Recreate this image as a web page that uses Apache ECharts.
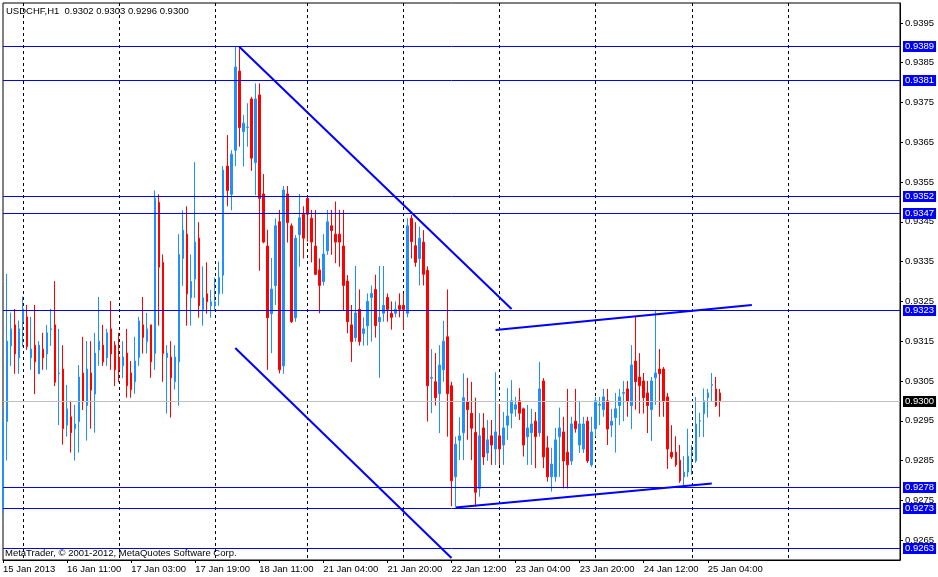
<!DOCTYPE html>
<html><head><meta charset="utf-8">
<script src="https://cdn.jsdelivr.net/npm/echarts@6/dist/echarts.min.js"></script>
<style>html,body{margin:0;padding:0;background:#fff}#c{width:938px;height:577px}</style>
</head><body><div id="c"></div><script>
const FONT = '"Liberation Sans", Arial, sans-serif';
const SYMBOL = 'USDCHF,H1';
const headerOHLC = ['0.9302', '0.9303', '0.9296', '0.9300'];
const footerText = 'MetaTrader, \u00A9 2001-2012, MetaQuotes Software Corp.';

// hourly bar slots (180 bars of data + empty future slots)
const slotCount = 225;
const xTickIdx = [0, 16, 32, 48, 64, 80, 96, 112, 128, 144, 160, 176];
const xTickLabels = ['15 Jan 2013', '16 Jan 11:00', '17 Jan 03:00', '17 Jan 19:00', '18 Jan 11:00', '21 Jan 04:00',
  '21 Jan 20:00', '22 Jan 12:00', '23 Jan 04:00', '23 Jan 20:00', '24 Jan 12:00', '25 Jan 04:00'];
const daySeparators = [5, 29, 53, 76, 100, 124, 148, 172, 196];
const yTickValues = [0.9265, 0.9275, 0.9285, 0.9295, 0.9305, 0.9315, 0.9325, 0.9335, 0.9345, 0.9355, 0.9365, 0.9375, 0.9385, 0.9395];

const opens = [
.92738,.92948,.93138,.93191,.93108,.93199,.93211,.93108,.93140,.93068,
.93130,.93118,.93179,.93191,.93068,.93080,.92939,.92960,.92930,.92948,
.93070,.92988,.93070,.93017,.93128,.93140,.93108,.93181,.93140,.93110,
.93088,.93120,.93070,.93048,.93109,.93191,.93149,.93191,.93119,.93499,
.93348,.93109,.93110,.93048,.93098,.93358,.93419,.93259,.93306,.93409,
.93229,.93269,.93239,.93239,.93269,.93316,.93590,.93519,.93630,.93829,
.93677,.93687,.93759,.93599,.93769,.93520,.93389,.93219,.93290,.93450,
.93088,.93520,.93440,.93209,.93418,.93469,.93509,.93459,.93389,.93329,
.93300,.93377,.93440,.93419,.93419,.93389,.93301,.93191,.93159,.93230,
.93169,.93189,.93260,.93280,.93199,.93220,.93260,.93220,.93220,.93240,
.93240,.93220,.93459,.93390,.93358,.93399,.93328,.93057,.93048,.93018,
.93078,.93161,.93038,.92809,.92901,.92920,.92998,.92969,.92921,.92780,
.92932,.92869,.92912,.92879,.92912,.92889,.92939,.92969,.92979,.93000,
.92980,.92910,.92920,.92949,.92920,.93050,.92882,.92809,.92809,.92910,
.92922,.92871,.92849,.92949,.92889,.92879,.92949,.92839,.92930,.92989,
.92978,.93000,.92939,.92958,.92988,.93019,.93030,.92988,.93100,.93060,
.93050,.93020,.92978,.93058,.93080,.93080,.93010,.92871,.92871,.92851,
.92809,.92821,.92871,.92849,.92949,.92968,.93008,.93039,.93030,.93020];

const closes = [
.92944,.93150,.93181,.93118,.93181,.93231,.93136,.93130,.93098,.93140,
.93108,.93171,.93181,.93047,.93070,.92930,.92980,.92920,.92942,.93060,
.92998,.93080,.93027,.93120,.93150,.93098,.93171,.93118,.93078,.93078,
.93110,.93038,.93028,.93100,.93201,.93159,.93181,.93098,.93509,.93336,
.93119,.93120,.93058,.93110,.93368,.93429,.93269,.93300,.93399,.93239,
.93259,.93249,.93249,.93249,.93310,.93580,.93529,.93620,.93839,.93687,
.93698,.93688,.93610,.93759,.93509,.93399,.93209,.93281,.93440,.93078,
.93530,.93448,.93199,.93409,.93460,.93409,.93469,.93399,.93318,.93290,
.93369,.93450,.93428,.93399,.93399,.93290,.93199,.93149,.93221,.93149,
.93181,.93250,.93270,.93189,.93210,.93240,.93230,.93210,.93230,.93230,
.93230,.93440,.93400,.93348,.93409,.93318,.93038,.93059,.93008,.93090,
.93150,.93018,.92799,.92891,.92912,.93008,.92978,.92931,.92770,.92912,
.92859,.92902,.92889,.92922,.92879,.92932,.92962,.93000,.92990,.92969,
.92889,.92932,.92942,.92910,.93030,.92859,.92809,.92841,.92902,.92932,
.92849,.92839,.92942,.92930,.92942,.92942,.92849,.92922,.93000,.92991,
.93010,.92929,.92949,.92980,.93010,.93021,.92998,.93090,.93048,.93038,
.93008,.92988,.93050,.93070,.93068,.92998,.92879,.92859,.92839,.92799,
.92821,.92861,.92872,.92942,.92950,.93000,.93020,.93041,.92988,.93000];

const lows = [
.92718,.92850,.93088,.93068,.93068,.93136,.93128,.93078,.93017,.93068,
.93078,.93078,.93138,.93037,.92939,.92890,.92910,.92870,.92850,.92870,
.92977,.92900,.92930,.92920,.93088,.93088,.93088,.93078,.93037,.93047,
.93057,.93008,.93008,.93018,.93088,.93119,.93119,.93058,.93078,.93189,
.93048,.92968,.92958,.93028,.92988,.93289,.93189,.93189,.93259,.93209,
.93189,.93219,.93209,.93229,.93239,.93269,.93489,.93479,.93590,.93639,
.93589,.93639,.93578,.93517,.93327,.93396,.93078,.93120,.93241,.93069,
.93068,.93398,.93196,.93199,.93337,.93358,.93400,.93348,.93316,.93220,
.93290,.93367,.93367,.93346,.93337,.93228,.93170,.93098,.93149,.93139,
.93139,.93139,.93149,.93159,.93058,.93199,.93199,.93179,.93210,.93210,
.93179,.93210,.93358,.93337,.93290,.93290,.92948,.92969,.92988,.92919,
.93048,.92910,.92735,.92735,.92851,.92851,.92902,.92851,.92734,.92759,
.92839,.92849,.92839,.92839,.92839,.92839,.92902,.92931,.92960,.92952,
.92860,.92839,.92839,.92831,.92910,.92831,.92797,.92772,.92797,.92809,
.92780,.92780,.92839,.92920,.92869,.92869,.92844,.92834,.92910,.92939,
.92960,.92889,.92909,.92870,.92939,.92949,.92960,.92929,.92978,.92968,
.92968,.92919,.92899,.92990,.92960,.92960,.92829,.92854,.92834,.92794,
.92788,.92809,.92814,.92844,.92909,.92909,.92958,.92998,.92985,.92960];

const highs = [
.92982,.93319,.93222,.93231,.93202,.93262,.93241,.93211,.93241,.93150,
.93171,.93191,.93231,.93301,.93181,.93140,.93040,.93000,.92990,.93090,
.93161,.93150,.93150,.93171,.93261,.93191,.93181,.93251,.93150,.93171,
.93150,.93181,.93100,.93161,.93211,.93261,.93221,.93191,.93529,.93519,
.93368,.93140,.93150,.93140,.93419,.93479,.93489,.93368,.93600,.93449,
.93338,.93348,.93279,.93310,.93350,.93590,.93668,.93630,.93890,.93886,
.93719,.93748,.93764,.93798,.93798,.93570,.93430,.93359,.93459,.93480,
.93540,.93540,.93446,.93417,.93520,.93489,.93511,.93480,.93480,.93358,
.93419,.93480,.93480,.93501,.93480,.93480,.93316,.93241,.93339,.93280,
.93210,.93270,.93290,.93317,.93339,.93339,.93270,.93250,.93250,.93270,
.93270,.93459,.93467,.93449,.93438,.93429,.93338,.93130,.93120,.93140,
.93201,.93280,.93048,.92910,.92959,.93069,.93058,.93048,.93008,.92969,
.92969,.92952,.92952,.93072,.92992,.92972,.93032,.93052,.93010,.93032,
.92983,.92990,.92980,.92972,.93098,.93057,.92912,.92882,.92932,.92983,
.92960,.93030,.92960,.93030,.93000,.92960,.92960,.92960,.93010,.93010,
.93030,.93030,.92980,.93020,.93030,.93050,.93050,.93140,.93211,.93120,
.93070,.93050,.93060,.93229,.93130,.93085,.93020,.92939,.92911,.92889,
.92861,.92930,.92889,.93010,.92970,.93031,.93030,.93070,.93060,.93030];

// horizontal levels: drawn price and the text shown in the price-axis box
const levelPrices = [0.938907, 0.938052, 0.935136, 0.934709, 0.932271, 0.927822, 0.927294, 0.926289];
const levelLabels = ['0.9389', '0.9381', '0.9352', '0.9347', '0.9323', '0.9278', '0.9273', '0.9263'];
const bidPrice = 0.929984;
const bidLabel = '0.9300';

// trend lines: [slot index, price] end points
const trendDown1 = [[59, 0.93890], [127, 0.93231]];
const trendDown2 = [[58, 0.93133], [112, 0.92605]];
const channelTop = [[123, 0.93178], [187, 0.93241]];
const channelBottom = [[113, 0.92732], [177, 0.92792]];

const categories = Array.from({length: slotCount}, (_, i) => String(i));
const labelMap = {};
xTickIdx.forEach((k, j) => { labelMap[k] = xTickLabels[j]; });
const candleData = opens.map((o, i) => [o, closes[i], lows[i], highs[i]]);

const chart = echarts.init(document.getElementById('c'), null, {renderer: 'canvas'});

function levelSeries(v, text, color, bg) {
  return {
    type: 'line', data: [[0, v], [slotCount - 1, v]], symbol: 'none', silent: true, z: 3,
    animation: false, clip: false,
    lineStyle: {color: color, width: 1},
    endLabel: {
      show: true, distance: 3,
      formatter: () => text,
      color: '#fff', backgroundColor: bg, padding: [1, 2, 0, 2],
      fontSize: 9.5, fontFamily: FONT
    }
  };
}

function trend(pts) {
  return {
    type: 'line', data: pts, symbol: 'none', silent: true, z: 4,
    lineStyle: {color: '#0000FF', width: 2}, animation: false
  };
}

const series = [
  {
    type: 'candlestick', data: candleData, barWidth: 2, silent: true, z: 2,
    itemStyle: {color: '#1E90FF', color0: '#FF0000', borderColor: '#1E90FF', borderColor0: '#FF0000', borderWidth: 1}
  },
  levelSeries(bidPrice, bidLabel, '#C0C0C0', '#000')
].concat(levelPrices.map((v, i) => levelSeries(v, levelLabels[i], '#0000FF', '#0000FF')))
 .concat([trend(trendDown1), trend(trendDown2), trend(channelTop), trend(channelBottom)]);

chart.setOption({
  animation: false,
  backgroundColor: '#fff',
  title: {
    text: SYMBOL + '  ' + headerOHLC.join(' '),
    left: 6, top: 6, padding: 0,
    textStyle: {fontSize: 9.5, fontWeight: 'normal', color: '#000', fontFamily: FONT}
  },
  graphic: [{
    type: 'text', left: 5, top: 548, z: 10,
    style: {text: footerText, fill: '#000', fontSize: 9.5, fontFamily: FONT}
  }],
  grid: {left: 3, right: 38, top: 3, bottom: 17, show: true, borderColor: '#000', borderWidth: 1, backgroundColor: '#fff'},
  xAxis: {
    type: 'category', data: categories, boundaryGap: false,
    axisLine: {show: true, lineStyle: {color: '#000'}},
    axisTick: {show: true, length: 3, interval: (i) => labelMap[i] !== undefined, lineStyle: {color: '#000'}},
    axisLabel: {
      interval: (i) => labelMap[i] !== undefined,
      formatter: (v) => labelMap[v] || '',
      align: 'left', margin: 4, color: '#000', fontSize: 9.5, fontFamily: FONT, hideOverlap: false
    },
    splitLine: {show: true, interval: (i) => daySeparators.includes(i), lineStyle: {color: '#000', width: 1, type: [3, 3]}}
  },
  yAxis: {
    type: 'value', position: 'right', min: 0.926, max: 0.940, scale: true,
    axisLine: {show: true, lineStyle: {color: '#000'}},
    axisTick: {show: true, length: 3, customValues: yTickValues, lineStyle: {color: '#000'}},
    axisLabel: {customValues: yTickValues, formatter: (v) => v.toFixed(4), color: '#000', fontSize: 9.5, fontFamily: FONT, margin: 5},
    splitLine: {show: false}
  },
  series: series
});
</script></body></html>
